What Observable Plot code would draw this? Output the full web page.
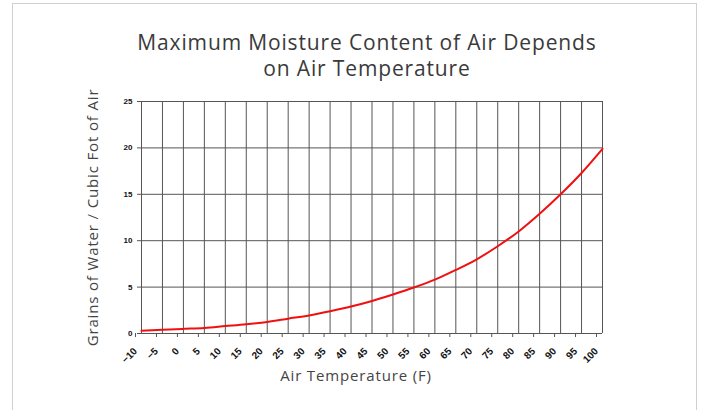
<!DOCTYPE html>
<html>
<head>
<meta charset="utf-8">
<script src="https://cdn.jsdelivr.net/npm/d3@7"></script>
<script src="https://cdn.jsdelivr.net/npm/@observablehq/plot@0.6"></script>
<style>
  html, body { margin: 0; padding: 0; background: #fff; }
  #wrap { position: relative; width: 702px; height: 410px; overflow: hidden; }
  #border { position: absolute; left: 12px; top: 3px; width: 685px; height: 420px; border: 1px solid #d0d0d0; box-sizing: border-box; }
  #title { position: absolute; left: 0; top: 30px; width: 734px; text-align: center; font-family: "Open Sans", sans-serif; font-size: 21px; letter-spacing: 0.85px; line-height: 25.5px; color: #3a3a3a; }
  #chart { position: absolute; left: 0; top: 0; }
</style>
</head>
<body>
<div id="wrap">
  <div id="border"></div>
  <div id="title">Maximum Moisture Content of Air Depends<br>on Air Temperature</div>
  <div id="chart"></div>
</div>
<script>
const temperatures = [-10, -5, 0, 5, 10, 15, 20, 25, 30, 35, 40, 45, 50, 55, 60, 65, 70, 75, 80, 85, 90, 95, 100];
const grains = [0.3, 0.4, 0.5, 0.6, 0.8, 1.0, 1.25, 1.6, 1.95, 2.4, 2.9, 3.5, 4.2, 4.95, 5.8, 6.85, 8.0, 9.4, 11.0, 12.9, 15.0, 17.3, 19.9];
const xTicks = [-10, -5, 0, 5, 10, 15, 20, 25, 30, 35, 40, 45, 50, 55, 60, 65, 70, 75, 80, 85, 90, 95, 100];
const yTicks = [0, 5, 10, 15, 20, 25];
const xTitle = "Air Temperature (F)";
const yTitle = "Grains of Water / Cubic Fot of Air";

const data = temperatures.map((t, i) => ({t, g: grains[i]}));

const chart = Plot.plot({
  width: 702,
  height: 410,
  marginLeft: 141,
  marginRight: 100,
  marginTop: 101,
  marginBottom: 77,
  style: {background: "transparent", overflow: "visible"},
  x: {domain: [-10, 100]},
  y: {domain: [0, 25]},
  marks: [
    Plot.gridX(xTicks, {stroke: "#555", strokeOpacity: 1, strokeWidth: 1}),
    Plot.gridY(yTicks, {stroke: "#555", strokeOpacity: 1, strokeWidth: 1}),
    Plot.axisX({ticks: xTicks, tickSize: 4, tickRotate: -45, tickPadding: 12, dx: -6, fontSize: 10, fontWeight: "bold", fontFamily: "Liberation Sans, Arial, sans-serif", label: null, stroke: "#555", fill: "#111"}),
    Plot.axisY({ticks: yTicks, tickSize: 4, tickPadding: 5, fontSize: 8, fontWeight: "bold", fontFamily: "Liberation Sans, Arial, sans-serif", label: null, stroke: "#555", fill: "#111"}),
    Plot.line(data, {x: "t", y: "g", stroke: "#f01010", strokeWidth: 2, curve: "monotone-x"}),
    Plot.text([xTitle], {frameAnchor: "bottom", text: d => d, dx: -16, dy: 47, fontSize: 15, fontFamily: "Open Sans, sans-serif", fill: "#444"}),
    Plot.text([yTitle], {frameAnchor: "left", textAnchor: "middle", text: d => d, rotate: -90, dx: -48, fontSize: 15, fontFamily: "Open Sans, sans-serif", fill: "#444"})
  ]
});
chart.querySelectorAll("text").forEach(t => {
  const s = t.textContent;
  if (s === xTitle || s === yTitle) t.style.letterSpacing = "0.85px";
});
document.getElementById("chart").appendChild(chart);
</script>
</body>
</html>
